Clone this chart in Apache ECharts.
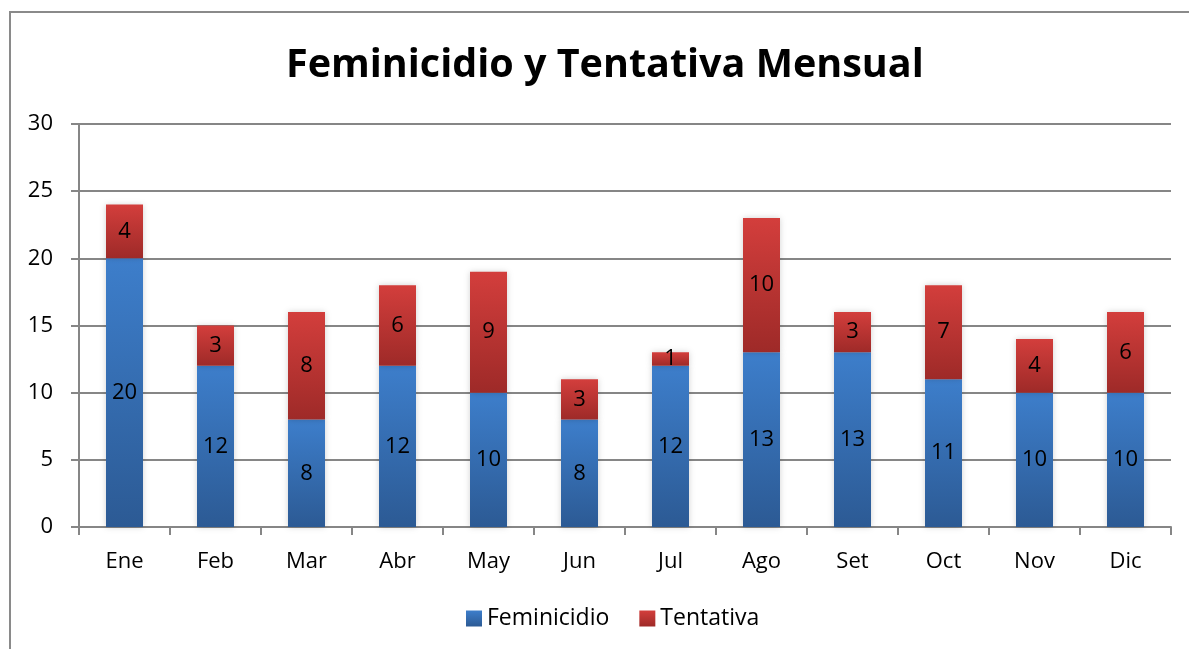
<!DOCTYPE html>
<html>
<head>
<meta charset="utf-8">
<script src="https://cdn.jsdelivr.net/npm/echarts@6/dist/echarts.min.js"></script>
<style>
  html, body { margin: 0; padding: 0; background: #fff; }
  #chart { width: 1189px; height: 649px; }
</style>
</head>
<body>
<div id="chart"></div>
<script>
const months = ['Ene', 'Feb', 'Mar', 'Abr', 'May', 'Jun', 'Jul', 'Ago', 'Set', 'Oct', 'Nov', 'Dic']
const feminicidio = [20, 12, 8, 12, 10, 8, 12, 13, 13, 11, 10, 10]
const tentativa = [4, 3, 8, 6, 9, 3, 1, 10, 3, 7, 4, 6]

const font = '"Open Sans", "Noto Sans", sans-serif'

function grad(top, bottom) {
  return new echarts.graphic.LinearGradient(0, 0, 0, 1, [
    { offset: 0, color: top },
    { offset: 1, color: bottom }
  ])
}

const chart = echarts.init(document.getElementById('chart'))
chart.setOption({
  animation: false,
  textStyle: { fontFamily: font },
  title: {
    text: 'Feminicidio y Tentativa Mensual',
    left: 281,
    top: 41,
    textStyle: { fontSize: 39.5, fontWeight: 'bold', color: '#000', fontFamily: font }
  },
  graphic: [{
    type: 'rect',
    shape: { x: 10, y: 12, width: 1200, height: 660 },
    style: { fill: 'none', stroke: '#8a8a8a', lineWidth: 2 },
    silent: true
  }],
  legend: {
    bottom: 14,
    left: 461,
    itemWidth: 16,
    itemHeight: 16,
    itemGap: 30,
    icon: 'rect',
    textStyle: { fontSize: 23, color: '#000', fontFamily: font },
    data: ['Feminicidio', 'Tentativa']
  },
  grid: { left: 79, right: 18, top: 124, bottom: 122 },
  xAxis: {
    type: 'category',
    data: months,
    axisLine: { lineStyle: { color: '#868686', width: 2 } },
    axisTick: { show: true, length: 8, lineStyle: { color: '#868686', width: 2 } },
    axisLabel: { fontSize: 22, color: '#000', margin: 24 }
  },
  yAxis: {
    type: 'value',
    min: 0,
    max: 30,
    interval: 5,
    axisLine: { show: true, lineStyle: { color: '#868686', width: 2 } },
    axisTick: { show: true, length: 8, lineStyle: { color: '#868686', width: 2 } },
    axisLabel: { fontSize: 22, color: '#000', margin: 26 },
    splitLine: { lineStyle: { color: '#868686', width: 2 } }
  },
  series: [
    {
      name: 'Feminicidio',
      type: 'bar',
      stack: 'total',
      barWidth: 37,
      data: feminicidio,
      itemStyle: {
        color: grad('#3d7ecb', '#2c5a94'),
        shadowBlur: 6,
        shadowColor: 'rgba(0,0,0,0.18)'
      },
      label: { show: true, position: 'inside', fontSize: 22, color: '#000', fontFamily: font }
    },
    {
      name: 'Tentativa',
      type: 'bar',
      stack: 'total',
      barWidth: 37,
      data: tentativa,
      itemStyle: {
        color: grad('#d33e3c', '#9e2a28'),
        shadowBlur: 6,
        shadowColor: 'rgba(0,0,0,0.18)'
      },
      label: { show: true, position: 'inside', fontSize: 22, color: '#000', fontFamily: font }
    }
  ]
})
</script>
</body>
</html>
